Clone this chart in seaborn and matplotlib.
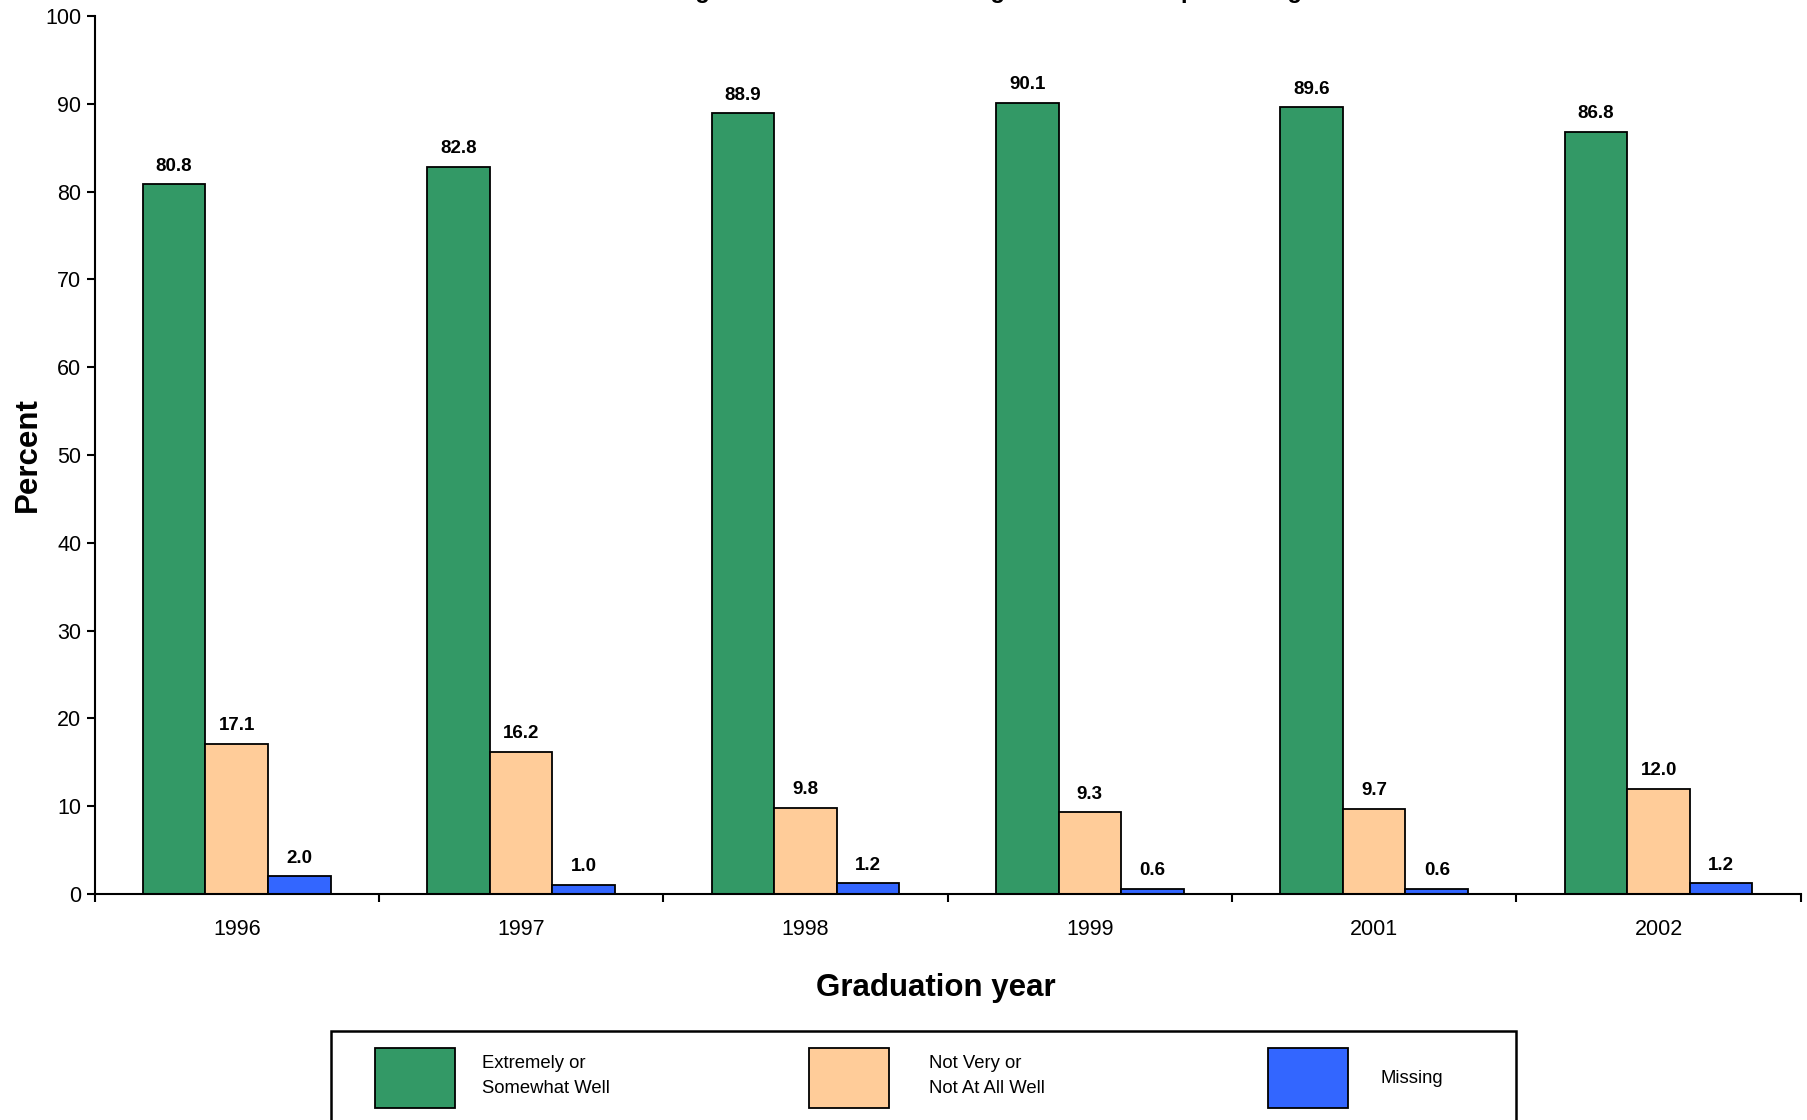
import pandas as pd
import seaborn as sns
import matplotlib.pyplot as plt
from matplotlib.ticker import FixedLocator
from matplotlib.patches import Rectangle

years = ['1996', '1997', '1998', '1999', '2001', '2002']
groups = ['Extremely or\nSomewhat Well', 'Not Very or\nNot At All Well', 'Missing']
well = [80.8, 82.8, 88.9, 90.1, 89.6, 86.8]
not_well = [17.1, 16.2, 9.8, 9.3, 9.7, 12.0]
missing = [2.0, 1.0, 1.2, 0.6, 0.6, 1.2]
colors = ['#339966', '#FFCC99', '#3366FF']
title = 'Knowledge of Content and Teaching Methods to Help Learning'

df = pd.DataFrame({
    'year': years * 3,
    'group': [groups[0]] * 6 + [groups[1]] * 6 + [groups[2]] * 6,
    'pct': well + not_well + missing,
})

sns.set_style('ticks')
plt.rcParams['font.family'] = ['Liberation Sans', 'DejaVu Sans']
plt.rcParams['text.color'] = 'black'
plt.rcParams['axes.labelcolor'] = 'black'
plt.rcParams['xtick.color'] = 'black'
plt.rcParams['ytick.color'] = 'black'

fig = plt.figure(figsize=(18.08, 11.2), dpi=100)
ax = fig.add_axes([0.0523, 0.2018, 0.9437, 0.784])

sns.barplot(data=df, x='year', y='pct', hue='group', palette=colors,
            width=0.66, gap=0, edgecolor='black', linewidth=1.3,
            saturation=1, ax=ax, legend=True)

for cont in ax.containers:
    ax.bar_label(cont, fmt='%.1f', padding=7, fontsize=13.5, fontweight='bold')

ax.set_ylim(0, 100)
ax.set_xlim(-0.5, 5.5)
ax.set_yticks(range(0, 101, 10))
ax.tick_params(axis='y', labelsize=15.5, length=6, width=1.5, direction='out')
ax.tick_params(axis='x', which='major', labelsize=15.5, length=0, pad=18)
ax.xaxis.set_minor_locator(FixedLocator([i - 0.5 for i in range(7)]))
ax.tick_params(axis='x', which='minor', length=6, width=1.5, direction='out')
for s in ['left', 'bottom']:
    ax.spines[s].set_linewidth(1.5)
    ax.spines[s].set_color('black')
sns.despine(ax=ax)

ax.set_ylabel('Percent', fontsize=22.5, fontweight='bold', labelpad=2)
ax.set_xlabel('Graduation year', fontsize=22.5, fontweight='bold', labelpad=24, x=0.493)

fig.text(0.525, 1.002, title, ha='center', va='baseline', fontsize=17, fontweight='bold')

# legend box (runs off the bottom edge like the original)
fig.add_artist(Rectangle((331 / 1808, -0.05), (1516 - 331) / 1808, 0.0795 + 0.05,
                         transform=fig.transFigure, fill=False, lw=1.8, ec='black'))

handles, labels = ax.get_legend_handles_labels()
ax.get_legend().remove()
leg_x = [366, 800, 1259]
leg_pad = [1.5, 2.2, 1.8]
for h, lab, x, p in zip(handles, labels, leg_x, leg_pad):
    leg = fig.legend([h], [lab], loc='upper left', bbox_to_anchor=(x / 1808, 0.0725),
                     fontsize=13.3, frameon=False,
                     handlelength=4.3, handleheight=4.6, handletextpad=p,
                     borderpad=0.5, borderaxespad=0)
    for t in leg.get_texts():
        t.set_linespacing(1.6)

fig.savefig('out.png', dpi=100)
